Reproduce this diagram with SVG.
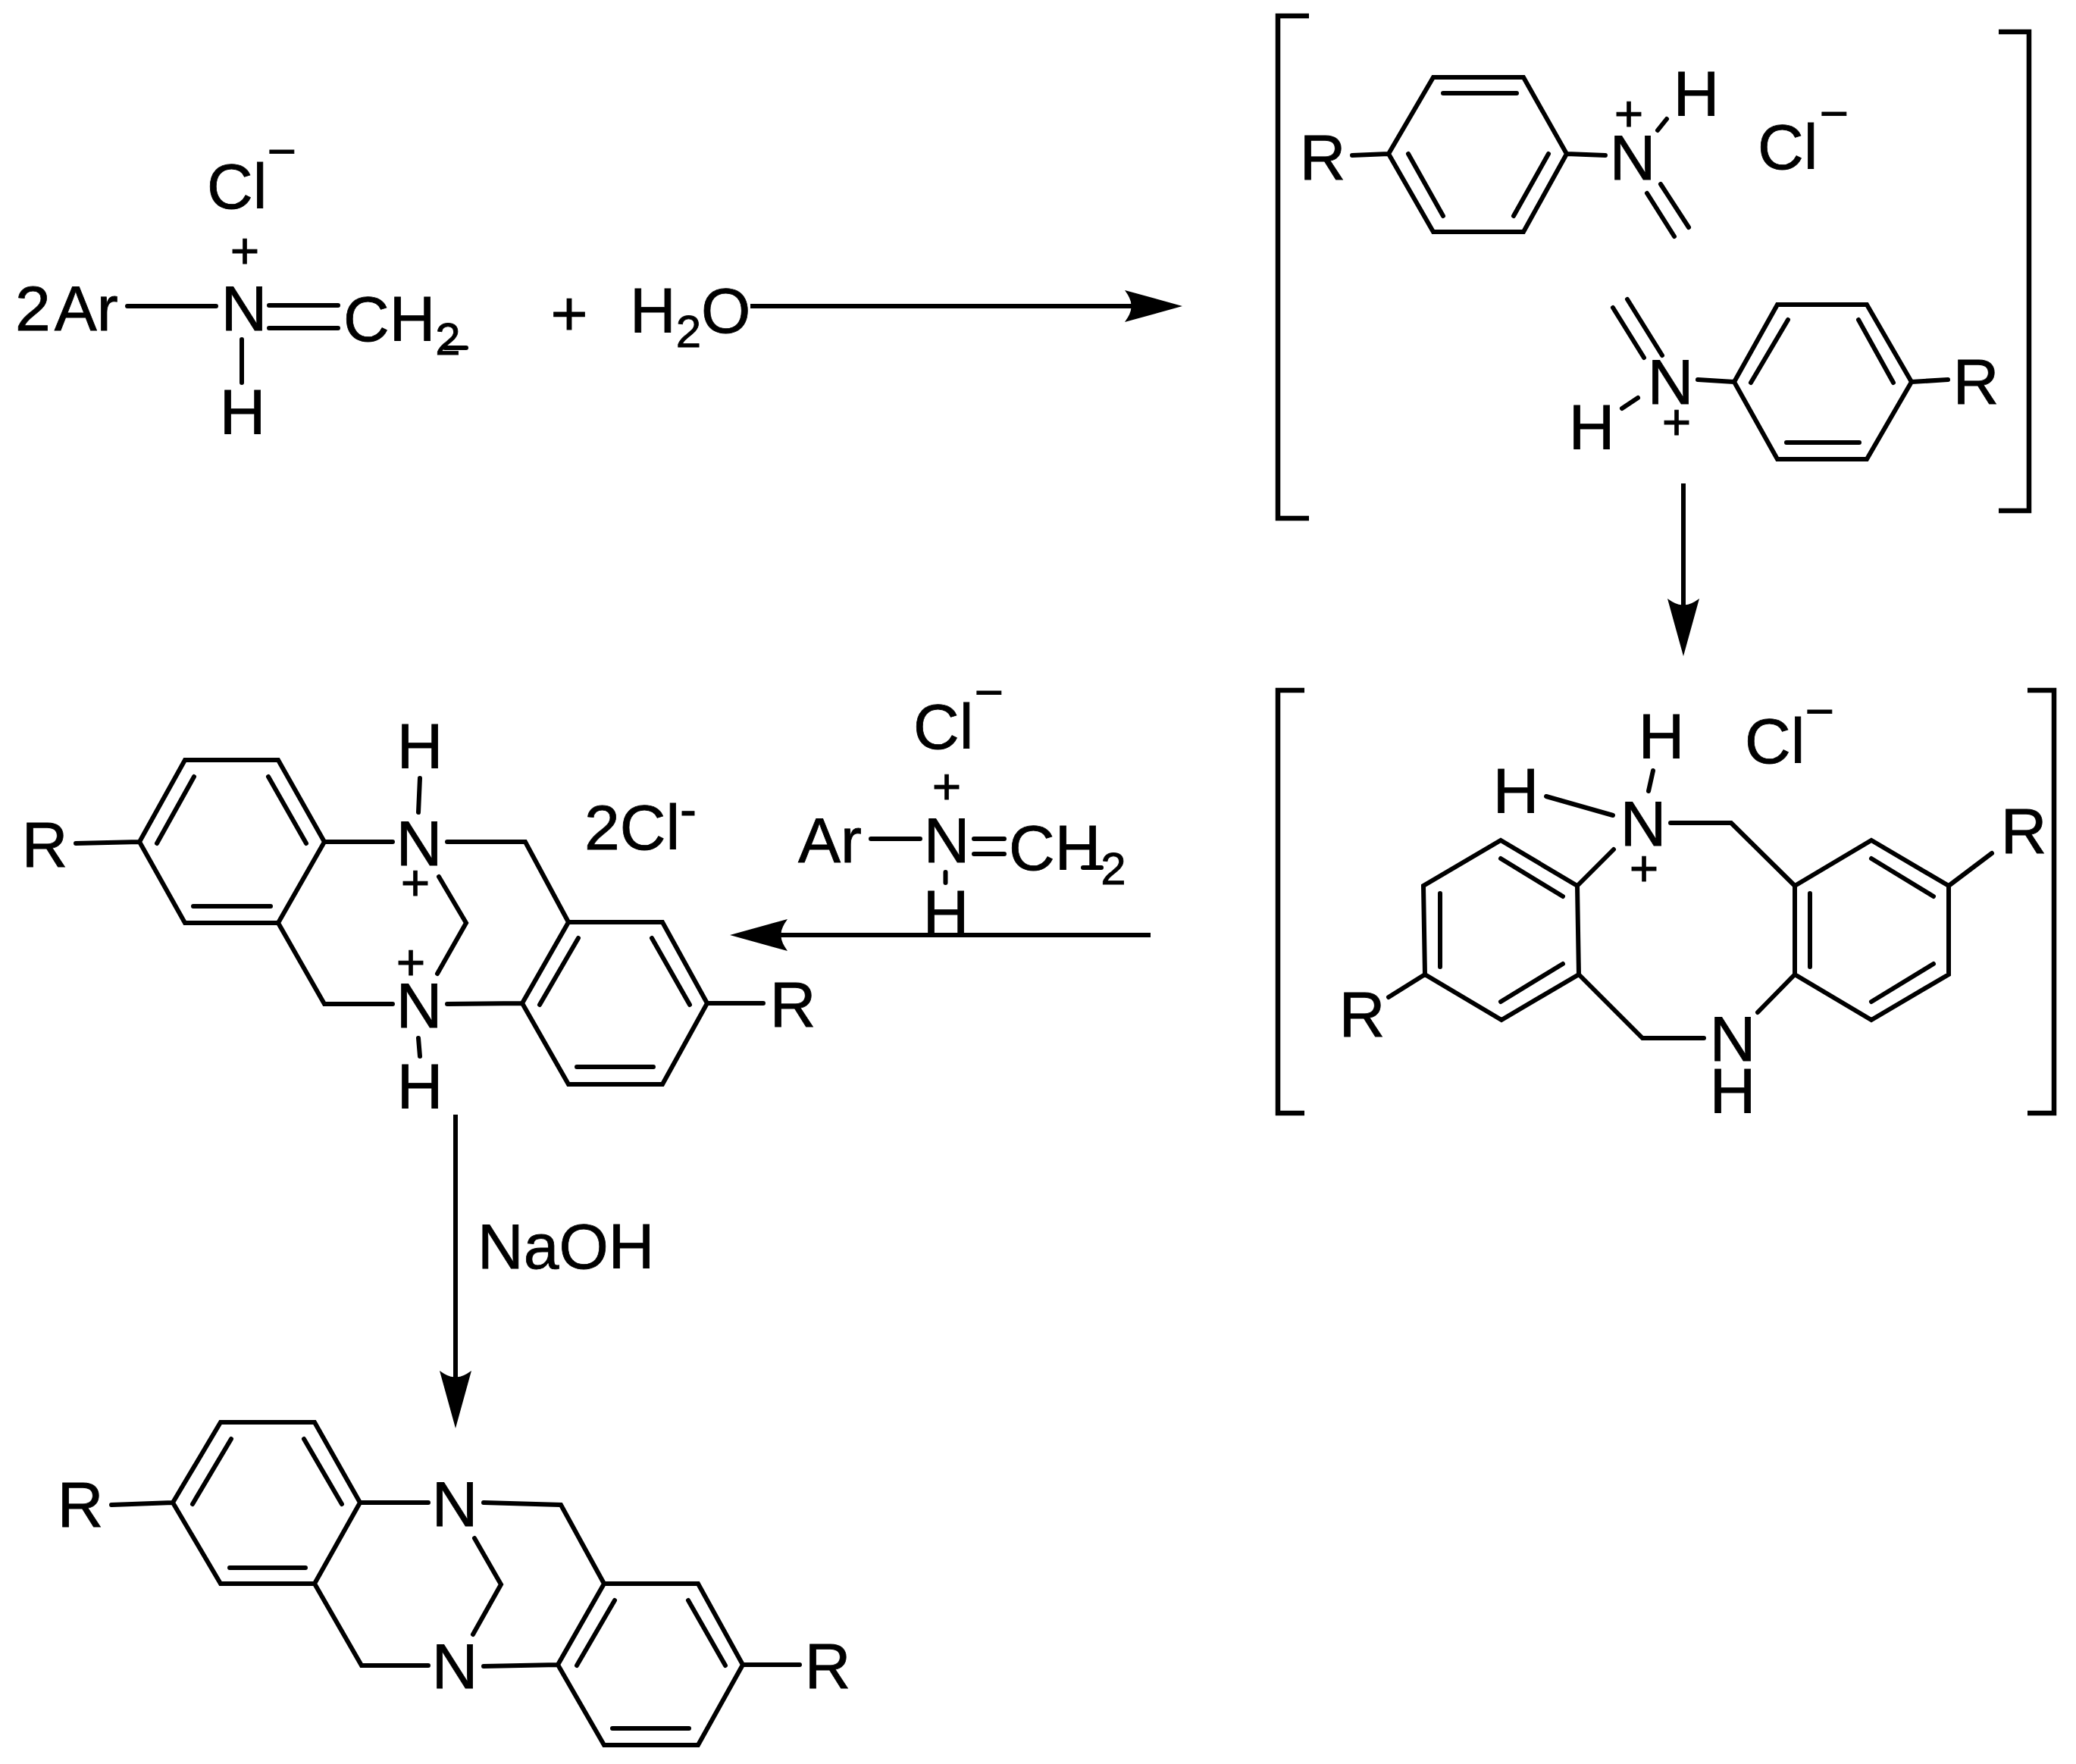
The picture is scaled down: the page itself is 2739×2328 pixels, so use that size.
<svg xmlns="http://www.w3.org/2000/svg" width="2739" height="2328" viewBox="0 0 2739 2328">
<style>
text{font-family:"Liberation Sans",Arial,sans-serif;font-size:84px;fill:#000;stroke:#000;stroke-width:.8}
.sub{font-size:60px}
.ch{font-size:66px;text-anchor:middle}
.m{text-anchor:middle}
path,line{fill:none;stroke:#000;stroke-width:6;stroke-linecap:round;stroke-linejoin:miter}
.br{stroke-width:6.500;stroke-linecap:butt}
.arr{stroke-linecap:butt;marker-end:url(#head)}
#head path{fill:#000;stroke:none}
</style>
<defs>
<marker id="head" markerUnits="userSpaceOnUse" markerWidth="78" markerHeight="44" refX="64" refY="21" orient="auto" overflow="visible">
<path d="M76 21L0 0Q10 14 8 21Q10 28 0 42Z"/>
</marker>
</defs>
<rect width="2739" height="2328" fill="#fff"/>

<g id="connectors">
<path class="arr" d="M990 404H1548"/>
<path class="arr" d="M2221 638V854"/>
<path class="arr" d="M1518 1234H975"/>
<path class="arr" d="M601 1471V1873"/>
</g>

<g id="reactant">
<text x="273" y="275">Cl</text><text class="ch" x="372" y="222">−</text>
<text class="ch" x="323" y="354">+</text>
<text x="20" y="436">2<tspan dx="5">Ar</tspan></text>
<path d="M168 404H285M355 403H446M355 433H446M319 448V505M587 459H615"/>
<text class="m" x="322" y="436">N</text>
<text x="453" y="450">CH<tspan class="sub" dy="18">2</tspan></text>
<text class="m" x="320" y="573">H</text>
</g>

<g id="plus"><text class="m" x="751" y="442">+</text></g>
<g id="water"><text x="831" y="439">H<tspan class="sub" dy="19">2</tspan><tspan dy="-19">O</tspan></text></g>

<g id="intermediate-1">
<path class="br" d="M1727 21H1686V684H1727M2637 42H2677V674H2637"/>
<path d="M1891 102H2010L2067 203L2010 306H1891L1832 203ZM1904 123H2001M1858 203L1904 285M2043 203L1997 285M1784 205L1832 203M2067 203L2118 205M2199 157L2187 172M2191 243L2228 300M2173 255L2209 312"/>
<text class="m" x="1745" y="237">R</text>
<text class="m" x="2154" y="237">N</text>
<text class="ch" x="2149" y="173">+</text>
<text class="m" x="2238" y="153">H</text>
<text x="2319" y="223">Cl</text><text class="ch" x="2420" y="172">−</text>
<path d="M2345 402H2463L2522 504L2463 606H2345L2288 504ZM2359 422L2310 505M2452 422L2498 505M2357 584H2453M2522 504L2570 501M2240 501L2288 504M2147 395L2193 469M2128 406L2169 472M2140 539L2161 525"/>
<text class="m" x="2607" y="533">R</text>
<text class="m" x="2204" y="533">N</text>
<text class="m" x="2100" y="593">H</text>
<text class="ch" x="2212" y="580">+</text>
</g>

<g id="intermediate-2">
<path class="br" d="M1721 911H1686V1469H1721M2675 911H2710V1469H2675"/>
<path d="M2081 1169L1980 1109L1878 1169L1880 1286L1981 1346L2083 1286ZM1980 1133L2062 1183M1900 1179V1276M1980 1322L2062 1272M1880 1286L1832 1316M2083 1286L2167 1370H2248M2319 1336L2368 1286M2129 1121L2081 1169M2204 1086H2284L2368 1169M2368 1169L2469 1109L2571 1169V1286L2469 1346L2368 1286ZM2469 1133L2551 1183M2388 1179V1276M2469 1322L2551 1272M2571 1169L2628 1126M2181 1017L2175 1044M2040 1051L2128 1076"/>
<text class="m" x="2192" y="1001">H</text>
<text class="m" x="2000" y="1073">H</text>
<text class="m" x="2168" y="1116">N</text>
<text x="2302" y="1007">Cl</text><text class="ch" x="2401" y="961">−</text>
<text class="ch" x="2169" y="1169">+</text>
<text class="m" x="1797" y="1368">R</text>
<text class="m" x="2286" y="1400">N</text>
<text class="m" x="2286" y="1469">H</text>
<text class="m" x="2670" y="1126">R</text>
</g>

<g id="reagent">
<text x="1205" y="988">Cl</text><text class="ch" x="1305" y="936">−</text>
<text class="ch" x="1249" y="1061">+</text>
<text x="1053" y="1138">Ar</text>
<path d="M1149 1107H1214M1285 1107H1325M1285 1127H1325M1247.500 1151V1165M1429 1145H1453"/>
<text class="m" x="1249" y="1138">N</text>
<text x="1331" y="1148">CH<tspan class="sub" dy="19">2</tspan></text>
<text class="m" x="1248" y="1234">H</text>
</g>

<g id="intermediate-3">
<path d="M244 1003H367L428 1111L367 1218H244L184 1111ZM256 1025L207 1113M354 1025L404 1113M255 1196H357M100 1113L184 1111M428 1111H518M554 1027L552 1072M590 1111H693L750 1217M579 1157L615 1218L577 1285M367 1218L428 1325H518M590 1325L689 1324M750 1217H874L933 1324L874 1431H750L689 1324ZM763 1238L712 1326M860 1238L910 1326M761 1408H862M933 1324H1007M552 1370L554 1394"/>
<text class="m" x="59" y="1144">R</text>
<text class="m" x="553" y="1142">N</text>
<text class="m" x="554" y="1014">H</text>
<text x="771" y="1121">2Cl<tspan font-size="66" dy="-30">-</tspan></text>
<text class="ch" x="548" y="1188">+</text>
<text class="ch" x="542" y="1293">+</text>
<text class="m" x="553" y="1356">N</text>
<text class="m" x="554" y="1463">H</text>
<text class="m" x="1046" y="1355">R</text>
</g>

<g id="naoh"><text x="630" y="1674">NaOH</text></g>

<g id="product">
<path d="M291 1877H415L475 1983L415 2090H291L228 1983ZM305 1899L254 1985M401 1899L451 1985M303 2069H403M147 1986L228 1983M475 1983H565M638 1983L740 1986L797 2090M626 2030L661 2091L624 2157M415 2090L477 2198H565M638 2199L736 2197M797 2090H921L980 2197L921 2303H797L736 2197ZM811 2112L761 2198M908 2112L957 2198M808 2281H909M980 2197H1055"/>
<text class="m" x="106" y="2015">R</text>
<text class="m" x="600" y="2014">N</text>
<text class="m" x="600" y="2228">N</text>
<text class="m" x="1092" y="2228">R</text>
</g>
</svg>
